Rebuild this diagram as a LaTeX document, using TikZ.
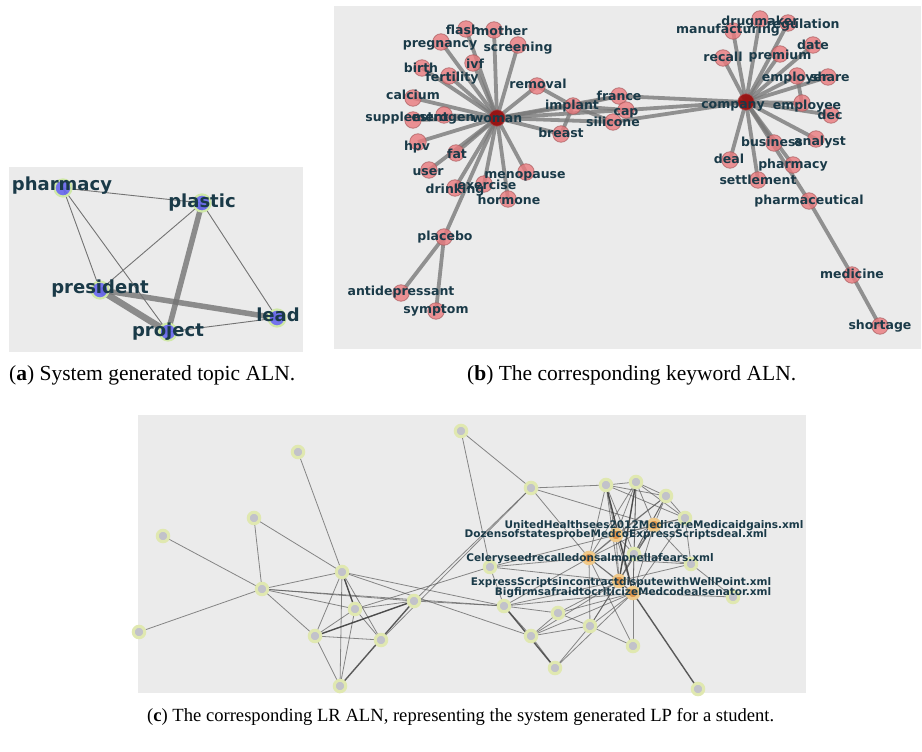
\documentclass[tikz,border=0pt]{standalone}
\usepackage{fontspec}
\usepackage{graphicx}
\setmainfont{Liberation Serif}
\newfontfamily\netfont{DejaVu Sans}
\definecolor{panelbg}{HTML}{EBEBEB}
\definecolor{lbltext}{HTML}{1A3A48}
\definecolor{topicblue}{HTML}{6666EE}
\definecolor{topichalo}{HTML}{CFE8A6}
\definecolor{kwred}{HTML}{EA7A7E}
\definecolor{kwrim}{HTML}{A85A5C}
\definecolor{hubred}{HTML}{9C0A0A}
\definecolor{lrgray}{HTML}{C2C2CA}
\definecolor{lrhalo}{HTML}{E0E8B0}
\definecolor{lrorange}{HTML}{E0954A}
\definecolor{lrorhalo}{HTML}{EFC98A}
\begin{document}
\begin{tikzpicture}[x=1pt,y=-1pt,
  topicdot/.style={circle,inner sep=0pt,minimum size=17pt,fill=topicblue,fill opacity=0.9,draw=topichalo,line width=2.2pt},
  topiclbl/.style={text=lbltext,font=\netfont\bfseries\fontsize{18}{20}\selectfont,inner sep=0pt,text height=0.72em,text depth=0.2em},
  thinlink/.style={draw=black!55,line width=0.9pt},
  thicklink/.style={draw=black!55,draw opacity=0.8,line width=5.5pt},
  kwdot/.style={circle,inner sep=0pt,minimum size=16.5pt,fill=kwred,fill opacity=0.8,draw=kwrim,draw opacity=0.7,line width=0.8pt},
  hubdot/.style={kwdot,fill=hubred,fill opacity=0.9},
  kwlbl/.style={text=lbltext,font=\netfont\bfseries\fontsize{12.5}{14}\selectfont,inner sep=0pt,text height=0.72em,text depth=0.2em},
  kwlink/.style={draw=black!52,draw opacity=0.8,line width=3.8pt},
  lrdot/.style={circle,inner sep=0pt,minimum size=11.5pt,fill=lrgray,draw=lrhalo,line width=3pt},
  lrhot/.style={lrdot,fill=lrorange,draw=lrorhalo},
  lrlbl/.style={text=lbltext,font=\netfont\bfseries\fontsize{10.5}{12}\selectfont,inner sep=0pt,text height=0.72em,text depth=0.2em},
  lrlink/.style={draw=black!65,draw opacity=0.7,line width=0.8pt},
  lrdark/.style={draw=black!75,draw opacity=0.85,line width=1.4pt},
  captext/.style={font=\fontsize{21.5}{24}\selectfont,inner sep=0pt,anchor=west},
  captextc/.style={font=\fontsize{18.6}{21}\selectfont,inner sep=0pt,anchor=west}
]
\useasboundingbox (0,0) rectangle (922,752);
\fill[white] (0,0) rectangle (922,752);
\fill[panelbg] (9,167) rectangle (303,352);
\fill[panelbg] (334,6) rectangle (921,349);
\fill[panelbg] (138,415) rectangle (806,693);

% ---------- (a) topic network ----------
\foreach \n/\x/\y in {pharmacy/63/188, plastic/202/203, president/100/290, project/168/332, lead/277/318}
  \coordinate (t-\n) at (\x,\y);
\foreach \a/\b in {pharmacy/plastic, pharmacy/president, pharmacy/project, plastic/president, plastic/lead, project/lead}
  \draw[thinlink] (t-\a) -- (t-\b);
\draw[thicklink] (t-plastic) -- (t-project);
\draw[thicklink] (t-president) -- (t-lead);
\draw[thicklink,line width=6.5pt] (t-president) -- (t-project);
\foreach \n in {pharmacy, plastic, president, project, lead}
  \node[topicdot] (t-\n-dot) at (t-\n) {};
\foreach \n/\x/\y in {pharmacy/62/188, plastic/202/205, president/100/291, project/168/334, lead/278/319}
  \node[topiclbl] (t-\n-lbl) at (\x,\y) {\n};

% ---------- (b) keyword network ----------
\foreach \n/\x/\y in {woman/497/118, flash/466/29, mother/494/30, pregnancy/441/42, screening/518/45,
  ivf/473/63, birth/422/68, fertility/449/76, removal/537/86, calcium/413/98, supplement/413/120,
  estrogen/444/115, implant/573/106, breast/561/134, france/619/96, cap/626/110, silicone/613/122,
  hpv/418/142, fat/456/153, user/429/170, menopause/526/172, drinking/455/188, exercise/484/184,
  hormone/508/199, placebo/444/237, antidepressant/401/293, symptom/436/311,
  company/746/102, drugmaker/760/19, manufacturing/733/31, regulation/788/23, date/813/45,
  recall/723/58, premium/780/54, employer/797/76, share/828/77, employee/802/103, dec/831/115,
  business/774/143, analyst/816/139, deal/730/160, pharmacy/793/165, settlement/758/180,
  pharmaceutical/809/201, medicine/852/275, shortage/880/326}
  \coordinate (k-\n) at (\x,\y);
\foreach \b in {flash, mother, pregnancy, screening, ivf, birth, fertility, removal, calcium, supplement,
  estrogen, hpv, fat, user, menopause, drinking, exercise, hormone, placebo, implant, breast, france, cap, silicone}
  \draw[kwlink] (k-woman) -- (k-\b);
\foreach \b in {france, cap, silicone, drugmaker, manufacturing, regulation, date, recall, premium, employer,
  share, employee, dec, business, analyst, deal, pharmacy, settlement, pharmaceutical}
  \draw[kwlink] (k-company) -- (k-\b);
\foreach \a/\b in {removal/implant, implant/breast, implant/france, implant/cap, implant/silicone,
  employer/employee, placebo/antidepressant, placebo/symptom, pharmaceutical/medicine, medicine/shortage}
  \draw[kwlink] (k-\a) -- (k-\b);
\foreach \n in {flash, mother, pregnancy, screening, ivf, birth, fertility, removal, calcium, supplement,
  estrogen, implant, breast, france, cap, silicone, hpv, fat, user, menopause, drinking, exercise,
  hormone, placebo, antidepressant, symptom, drugmaker, manufacturing, regulation, date, recall, premium,
  employer, share, employee, dec, business, analyst, deal, pharmacy, settlement, pharmaceutical, medicine, shortage}
  \node[kwdot] (k-\n-dot) at (k-\n) {};
\node[hubdot] (k-woman-dot) at (k-woman) {};
\node[hubdot] (k-company-dot) at (k-company) {};
\foreach \n/\x/\y in {flash/463/32, mother/502/33, pregnancy/440/45, screening/518/49, ivf/475/66,
  birth/421/70, fertility/452/79, removal/538/86, calcium/413/97, supplement/407/119, estrogen/443/119,
  woman/497/120, implant/572/107, breast/561/135, france/619/98, cap/626/113, silicone/613/124,
  hpv/417/148, fat/457/156, user/428/173, menopause/525/176, drinking/455/191, exercise/487/187,
  hormone/509/202, placebo/445/238, antidepressant/401/293, symptom/436/311,
  manufacturing/728/31, drugmaker/760/23, regulation/803/26, date/813/47, recall/723/59, premium/780/57,
  employer/795/79, share/830/79, company/733/106, employee/807/107, dec/830/117, business/772/144,
  analyst/820/143, deal/729/161, pharmacy/793/166, settlement/758/182, pharmaceutical/809/202,
  medicine/852/276, shortage/880/327}
  \node[kwlbl] (k-\n-lbl) at (\x,\y) {\n};

% ---------- (c) learning-resource network ----------
\foreach \n/\x/\y in {n1/298/452, n2/461/431, n3/254/518, n4/163/536, n5/262/589, n6/342/572,
  n7/355/609, n8/414/601, n9/315/636, n10/381/640, n11/340/686, n12/139/632,
  m1/531/488, m2/606/485, m3/636/482, m4/666/496, m5/685/518, m6/634/554, m7/691/564,
  m8/490/567, m9/733/597, m10/504/606, m11/558/613, m12/590/626, m13/531/636, m14/633/646,
  m15/555/668, m16/698/689, o1/654/525, o2/616/535, o3/589/558, o4/619/581, o5/633/593}
  \coordinate (l-\n) at (\x,\y);
\coordinate (l-exit) at (339,693);
\foreach \a/\b in {n4/n5, n3/n5, n3/n6, n1/n6, n12/n5, n5/n6, n5/n9, n5/n7, n5/n8, n6/n9, n6/n7,
  n6/n10, n6/n11, n7/n9, n7/n8, n7/n11, n7/n10, n8/n9, n9/n10, n9/n11,
  n8/m10, n6/m10, n6/m13, n10/m1, n7/m8, n5/m10, m1/n8,
  n2/m1, n2/m8, m1/m2, m1/o1, m1/o3, m2/m3, m2/o3, m2/o2, m2/m6, m2/o4, m2/o5, m2/m4, m2/m5,
  m3/m4, m3/m5, m3/o1, m3/o2, m3/o4, m3/o5, m3/m6, m3/o3, m4/o1, m4/o2, m4/m5, m4/o4, m4/m6, m4/o3,
  m5/o1, m5/m7, m5/o2, m5/o5, o1/o2, o1/o3, o1/o4, o1/o5, o1/m6, o1/m7, o1/m12,
  o2/o3, o2/o4, o2/o5, o2/m6, o2/m8, o3/o4, o3/o5, o3/m8, o3/m10, o3/m12, o3/m14, o3/m7,
  o4/o5, o4/m11, o4/m13, o4/m12, o4/m10, o4/m7, o5/m14, o5/m12, o5/m13, o5/m11, o5/m10,
  o5/m15, o5/m9, m8/m10, m8/o4, m10/m13, m10/m11, m11/m13, m11/m12, m12/m14, m12/m15,
  m12/m13, m13/m15, m6/m7, m6/o5, m7/m9}
  \draw[lrlink] (l-\a) -- (l-\b);
\draw[lrlink] (l-n11) -- (l-exit);
\foreach \a/\b in {n8/n11, n8/n9, n6/n7, m10/m15, o5/m16, m2/o5, m3/o4}
  \draw[lrdark] (l-\a) -- (l-\b);
\foreach \n in {n1, n2, n3, n4, n5, n6, n7, n8, n9, n10, n11, n12, m1, m2, m3, m4, m5, m6, m7,
  m8, m9, m10, m11, m12, m13, m14, m15, m16}
  \node[lrdot] (l-\n-dot) at (l-\n) {};
\foreach \n in {o1, o2, o3, o4, o5}
  \node[lrhot] (l-\n-dot) at (l-\n) {};
\node[lrlbl] (l-o1-lbl) at (654,526) {UnitedHealthsees2012MedicareMedicaidgains.xml};
\node[lrlbl] (l-o2-lbl) at (616,535) {DozensofstatesprobeMedcoExpressScriptsdeal.xml};
\node[lrlbl] (l-o3-lbl) at (590,559) {Celeryseedrecalledonsalmonellafears.xml};
\node[lrlbl] (l-o4-lbl) at (621,583) {ExpressScriptsincontractdisputewithWellPoint.xml};
\node[lrlbl] (l-o5-lbl) at (633,593) {BigfirmsafraidtocriticizeMedcodealsenator.xml};

% ---------- captions ----------
\node[captext] (cap-a) at (9,375) {(\textbf{a}) System generated topic ALN.};
\node[captext] (cap-b) at (467,375) {(\textbf{b}) The corresponding keyword ALN.};
\node[captextc] (cap-c) at (147,717) {(\textbf{c}) The corresponding LR ALN, representing the system generated LP for a student.};
\end{tikzpicture}
\end{document}
